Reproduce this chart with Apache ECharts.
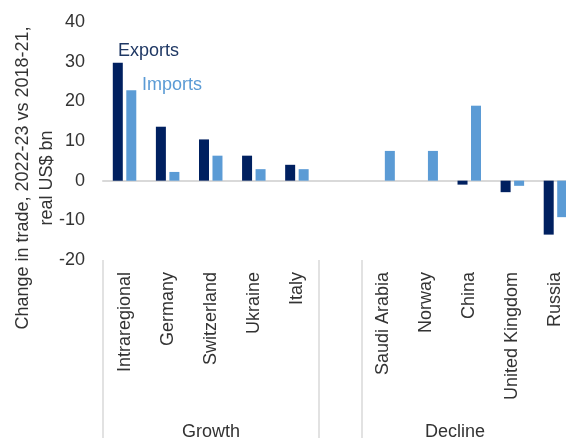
<!DOCTYPE html>
<html>
<head>
<meta charset="utf-8">
<script src="https://cdn.jsdelivr.net/npm/echarts@6/dist/echarts.min.js"></script>
<style>
html,body{margin:0;padding:0;background:#fff;}
#chart{width:566px;height:438px;}
</style>
</head>
<body>
<div id="chart"></div>
<script>
var categories = ['Intraregional','Germany','Switzerland','Ukraine','Italy','','Saudi Arabia','Norway','China','United Kingdom','Russia'];
var exportsData = [29.7, 13.6, 10.4, 6.3, 4.0, null, 0, 0, -1.0, -2.9, -13.6];
var importsData = [22.8, 2.2, 6.3, 2.9, 2.9, null, 7.5, 7.5, 18.9, -1.3, -9.2];
var yTicks = {min: -20, max: 40, interval: 10};
var groupLabels = ['Growth', 'Decline'];
var yTitle = 'Change in trade, 2022-23 vs 2018-21,\nreal US$ bn';

var FONT = 'Liberation Sans, Arial, sans-serif';
var TXT = '#333333';
var chart = echarts.init(document.getElementById('chart'));
chart.setOption({
  animation: false,
  grid: {left: 103, top: 22, right: -11, height: 238, containLabel: false, outerBoundsMode: 'none'},
  legend: [
    {data: [{name: 'Exports'}], left: 108, top: 37, icon: 'rect', itemWidth: 0, itemHeight: 0, itemGap: 0,
     selectedMode: false, textStyle: {color: '#1f3864', fontSize: 18, fontFamily: FONT}},
    {data: [{name: 'Imports'}], left: 132, top: 71, icon: 'rect', itemWidth: 0, itemHeight: 0, itemGap: 0,
     selectedMode: false, textStyle: {color: '#5b9bd5', fontSize: 18, fontFamily: FONT}}
  ],
  xAxis: [
    {type: 'category', data: categories, axisLine: {show: true, onZero: true, lineStyle: {color: '#d9d9d9', width: 2}},
     axisTick: {show: false}, axisLabel: {show: false}},
    {type: 'category', data: categories, position: 'bottom',
     axisLine: {show: false, onZero: false},
     axisTick: {show: true, length: 180, interval: function (i) { return i === 0 || i === 5 || i === 6; },
                lineStyle: {color: '#d9d9d9', width: 1.5}},
     axisLabel: {show: true, interval: 0, rotate: 90, margin: 12, color: TXT, fontSize: 18, fontFamily: FONT}}
  ],
  yAxis: {type: 'value', min: yTicks.min, max: yTicks.max, interval: yTicks.interval,
    axisLine: {show: false}, axisTick: {show: false}, splitLine: {show: false},
    axisLabel: {color: TXT, fontSize: 18, fontFamily: FONT, margin: 18}},
  graphic: [
    {type: 'text', x: 35, y: 178, rotation: Math.PI / 2,
     style: {text: yTitle, fill: TXT, font: '18px ' + FONT, textAlign: 'center', textVerticalAlign: 'middle', lineHeight: 24}},
    {type: 'text', x: 211, y: 432, style: {text: groupLabels[0], fill: TXT, font: '18px ' + FONT, textAlign: 'center', textVerticalAlign: 'middle'}},
    {type: 'text', x: 455, y: 432, style: {text: groupLabels[1], fill: TXT, font: '18px ' + FONT, textAlign: 'center', textVerticalAlign: 'middle'}}
  ],
  series: [
    {name: 'Exports', type: 'bar', xAxisIndex: 0, data: exportsData, barWidth: 10, barGap: '35%', itemStyle: {color: '#002060'}},
    {name: 'Imports', type: 'bar', xAxisIndex: 0, data: importsData, barWidth: 10, barGap: '35%', itemStyle: {color: '#5b9bd5'}}
  ]
});
</script>
</body>
</html>
